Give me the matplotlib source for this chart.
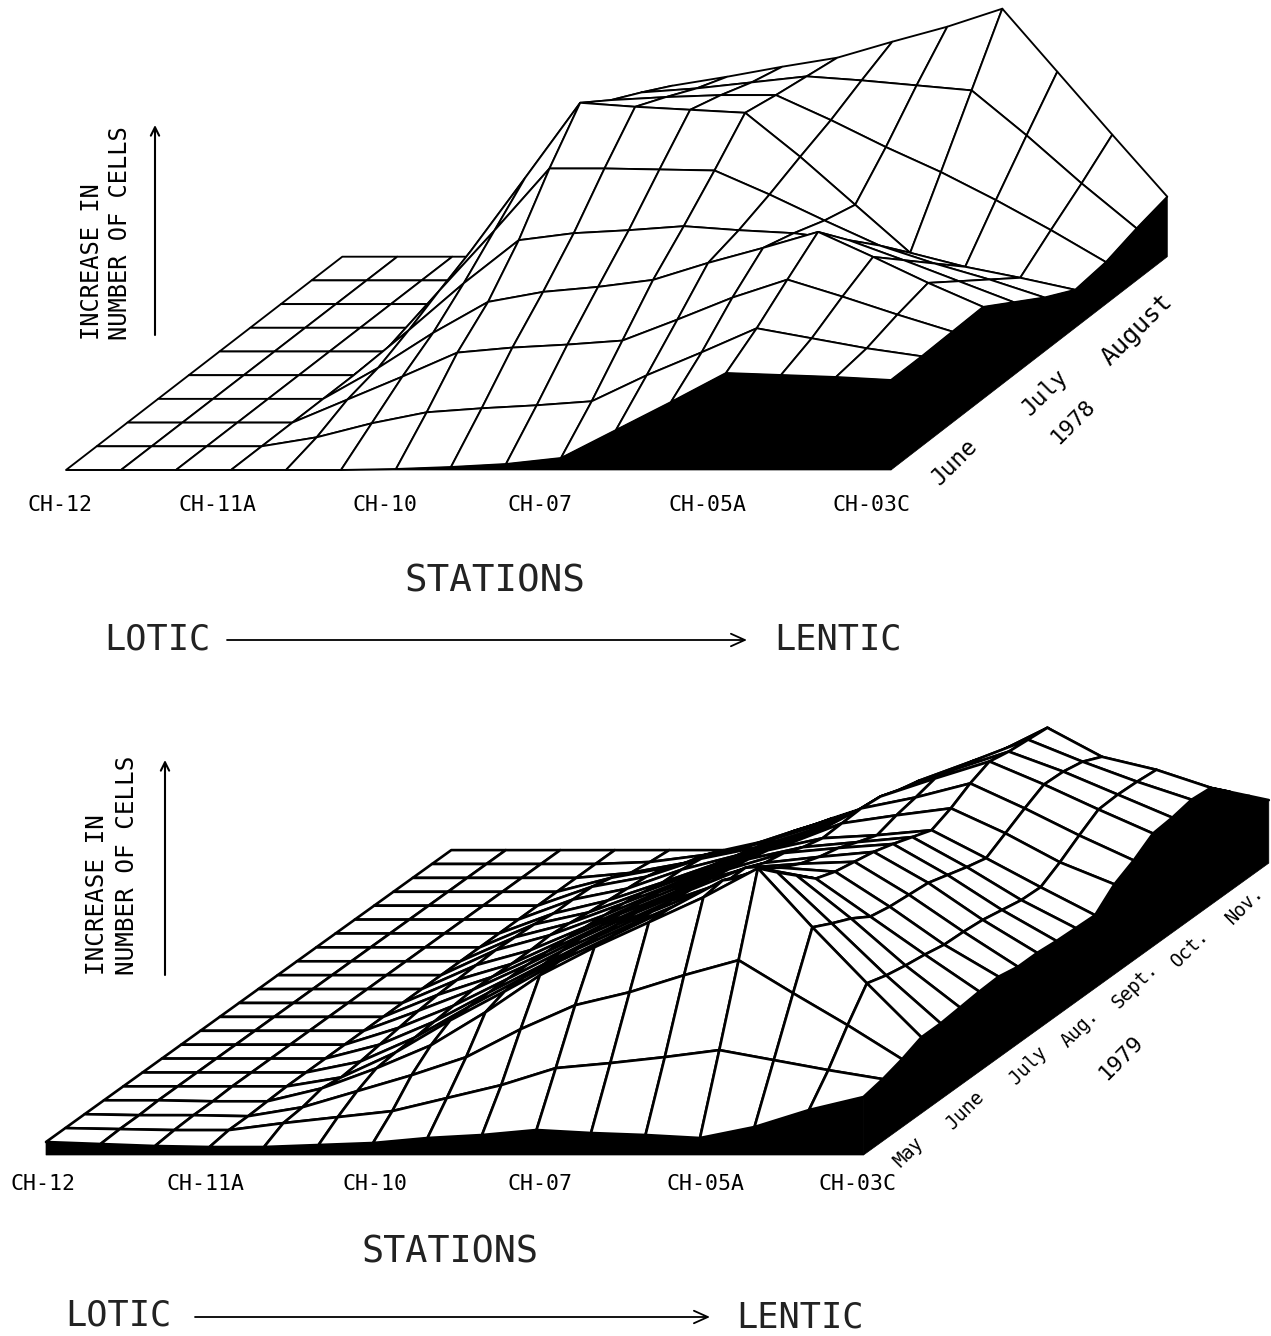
import numpy as np
import matplotlib
matplotlib.use('Agg')
import matplotlib.pyplot as plt
from matplotlib.collections import PolyCollection

stations = ['CH-12', 'CH-11A', 'CH-10', 'CH-07', 'CH-05A', 'CH-03C']
months_1978 = ['June', 'July', 'August']
months_1979 = ['May', 'June', 'July', 'Aug.', 'Sept.', 'Oct.', 'Nov.']

# surface heights, one list per row (front to back), 16 columns
heights_1978 = [
    [0, 0, 0, 0, 0, 0, 1, 3, 6, 12, 40, 68, 97, 95, 93, 90],
    [0, 0, 0, 0, 9, 23, 34, 38, 41, 45, 71, 94, 118, 108, 98, 90],
    [0, 0, 0, 0, 23, 46, 70, 75, 78, 82, 103, 125, 143, 126, 108, 91],
    [0, 0, 0, 0, 31, 66, 97, 107, 112, 119, 136, 151, 167, 142, 116, 92],
    [0, 0, 0, 0, 45, 92, 135, 142, 145, 149, 145, 142, 135, 115, 94, 73],
    [0, 0, 0, 0, 61, 121, 183, 183, 182, 181, 157, 131, 106, 88, 72, 54],
    [0, 0, 0, 0, 76, 150, 225, 221, 218, 215, 171, 123, 75, 61, 50, 38],
    [0, 0, 0, 0, 68, 136, 204, 207, 209, 209, 184, 157, 132, 104, 74, 42],
    [0, 0, 0, 0, 63, 126, 188, 192, 198, 204, 200, 195, 190, 145, 97, 52],
    [0, 0, 0, 0, 57, 114, 171, 180, 190, 199, 215, 230, 248, 185, 122, 60],
]

heights_1979 = [
    [13, 11, 9, 8, 8, 10, 12, 17, 20, 25, 22, 20, 17, 28, 45, 58],
    [13, 12, 11, 11, 18, 24, 30, 43, 56, 73, 78, 84, 91, 81, 71, 62],
    [13, 12, 12, 11, 20, 36, 52, 70, 98, 122, 135, 152, 167, 134, 102, 68],
    [13, 13, 12, 12, 25, 45, 68, 101, 138, 166, 191, 216, 245, 186, 130, 76],
    [13, 13, 13, 13, 22, 47, 79, 108, 138, 164, 190, 219, 227, 176, 124, 76],
    [13, 13, 13, 13, 24, 48, 79, 108, 137, 162, 185, 210, 210, 167, 120, 78],
    [13, 13, 13, 13, 27, 50, 79, 107, 135, 160, 182, 203, 193, 155, 117, 80],
    [13, 13, 13, 13, 30, 52, 79, 107, 133, 157, 176, 190, 186, 151, 113, 81],
    [13, 13, 13, 13, 33, 54, 79, 106, 131, 154, 176, 180, 182, 149, 112, 77],
    [13, 13, 13, 13, 35, 53, 78, 104, 128, 151, 167, 173, 178, 147, 110, 77],
    [13, 13, 13, 13, 36, 52, 77, 102, 124, 147, 163, 168, 172, 141, 106, 75],
    [13, 13, 13, 13, 37, 52, 75, 99, 121, 143, 155, 160, 165, 135, 102, 74],
    [13, 13, 13, 13, 38, 53, 73, 96, 117, 138, 150, 153, 158, 130, 101, 73],
    [13, 13, 13, 13, 37, 51, 71, 92, 112, 130, 151, 159, 166, 141, 112, 90],
    [13, 13, 13, 13, 36, 48, 68, 88, 106, 123, 152, 163, 177, 152, 125, 100],
    [13, 13, 13, 13, 33, 46, 64, 83, 100, 117, 150, 168, 185, 162, 137, 113],
    [13, 13, 13, 13, 33, 44, 63, 77, 94, 111, 143, 163, 181, 161, 138, 115],
    [13, 13, 13, 13, 32, 42, 60, 71, 88, 106, 138, 158, 179, 157, 137, 119],
    [13, 13, 13, 13, 27, 37, 50, 66, 83, 102, 124, 150, 177, 148, 135, 117],
    [13, 13, 13, 13, 18, 28, 42, 60, 77, 96, 118, 142, 150, 120, 110, 99],
    [13, 13, 13, 13, 15, 22, 33, 52, 70, 90, 110, 134, 120, 90, 85, 81],
    [13, 13, 13, 13, 13, 13, 25, 45, 63, 83, 103, 125, 90, 70, 65, 63],
]

fig = plt.figure(figsize=(12.71, 13.36), dpi=100)
ax = fig.add_axes([0, 0, 1, 1])
ax.set_xlim(0, 1271)
ax.set_ylim(1336, 0)
ax.axis('off')


def draw_surface(heights, x0, y0, dx, row_dx, row_dy, lw):
    z = np.array(heights, dtype=float)
    rows, cols = z.shape
    jj, ii = np.mgrid[0:rows, 0:cols]
    px = x0 + dx * ii + row_dx * jj
    base = y0 - row_dy * jj
    py = base - z

    # back to front, left to right, so nearer cells cover farther ones
    quads = []
    for j in range(rows - 2, -1, -1):
        for i in range(cols - 1):
            quads.append([(px[j, i], py[j, i]), (px[j, i + 1], py[j, i + 1]),
                          (px[j + 1, i + 1], py[j + 1, i + 1]), (px[j + 1, i], py[j + 1, i])])
    ax.add_collection(PolyCollection(quads, facecolors='white', edgecolors='black',
                                     linewidths=lw, joinstyle='round', zorder=2))

    # black skirts along the front and right edges
    front = list(zip(px[0], py[0])) + list(zip(px[0][::-1], base[0][::-1]))
    right = list(zip(px[:, -1], py[:, -1])) + list(zip(px[:, -1][::-1], base[:, -1][::-1]))
    ax.fill(*zip(*front), color='black', lw=0.5, zorder=3)
    ax.fill(*zip(*right), color='black', lw=0.5, zorder=3)


draw_surface(heights_1978, 66, 470, 55, 30.7, 23.7, 1.35)
draw_surface(heights_1979, 46, 1155, 54.5, 19.3, 13.9, 1.9)

mono = 'DejaVu Sans Mono'


def labels(x_list, y, size=15.5):
    for name, x in zip(stations, x_list):
        ax.text(x, y, name, family=mono, fontsize=size, ha='center', va='center', zorder=5)


def up_arrow(x, y1, y2):
    ax.annotate('', xy=(x, y2), xytext=(x, y1), zorder=5,
                arrowprops=dict(arrowstyle='->,head_width=0.3,head_length=0.6', lw=1.5, color='black',
                                shrinkA=0, shrinkB=0))


def side_arrow(x1, x2, y):
    ax.annotate('', xy=(x2, y), xytext=(x1, y), zorder=5,
                arrowprops=dict(arrowstyle='->,head_width=0.45,head_length=1.0', lw=1.3, color='black',
                                shrinkA=0, shrinkB=0))


# 1978 panel
labels([60, 218, 385, 540, 708, 872], 505)
ax.text(495, 582, 'STATIONS', family=mono, fontsize=27, ha='center', va='center', color='#222222')
ax.text(157, 640, 'LOTIC', family=mono, fontsize=25.5, ha='center', va='center', color='#222222')
ax.text(838, 640, 'LENTIC', family=mono, fontsize=25.5, ha='center', va='center', color='#222222')
side_arrow(227, 747, 640)
ax.text(92, 340, 'INCREASE IN', family=mono, fontsize=17, rotation=90, ha='center', va='bottom')
ax.text(120, 340, 'NUMBER OF CELLS', family=mono, fontsize=17, rotation=90, ha='center', va='bottom')
up_arrow(155, 335, 125)
for name, x, y, size in zip(months_1978, [955, 1045, 1137], [462, 392, 330], [16.5, 16.5, 18]):
    ax.text(x, y, name, family=mono, fontsize=size, rotation=45, ha='center', va='center', rotation_mode='anchor')
ax.text(1073, 422, '1978', family=mono, fontsize=16, rotation=45, ha='center', va='center', rotation_mode='anchor')

# 1979 panel
labels([43, 206, 375, 540, 705, 857], 1184)
ax.text(450, 1252, 'STATIONS', family=mono, fontsize=26.5, ha='center', va='center', color='#222222')
ax.text(118, 1315, 'LOTIC', family=mono, fontsize=25.5, ha='center', va='center', color='#222222')
ax.text(800, 1318, 'LENTIC', family=mono, fontsize=25.5, ha='center', va='center', color='#222222')
side_arrow(195, 710, 1317)
ax.text(97, 975, 'INCREASE IN', family=mono, fontsize=17.5, rotation=90, ha='center', va='bottom')
ax.text(127, 975, 'NUMBER OF CELLS', family=mono, fontsize=17.5, rotation=90, ha='center', va='bottom')
up_arrow(165, 975, 760)
for name, x, y in zip(months_1979, [908, 965, 1028, 1080, 1135, 1190, 1245], [1152, 1110, 1065, 1028, 985, 948, 905]):
    ax.text(x, y, name, family=mono, fontsize=13.5, rotation=45, ha='center', va='center', rotation_mode='anchor')
ax.text(1121, 1058, '1979', family=mono, fontsize=16, rotation=45, ha='center', va='center', rotation_mode='anchor')

fig.savefig('out.png', dpi=100, facecolor='white')
